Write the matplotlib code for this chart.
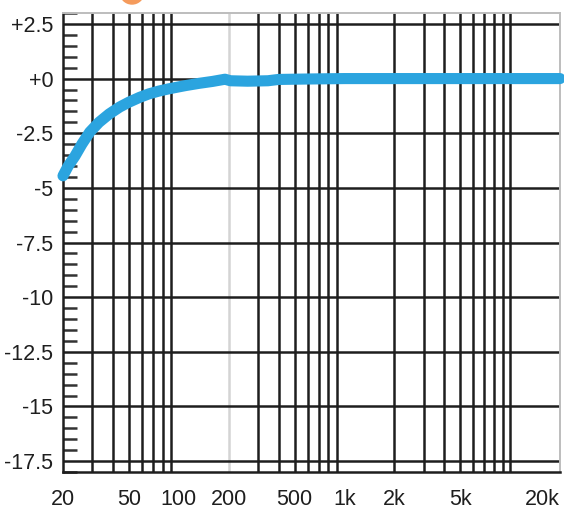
import numpy as np
import matplotlib
matplotlib.use("Agg")
import matplotlib.pyplot as plt
from matplotlib.patches import Ellipse
from matplotlib.ticker import FixedLocator, NullFormatter

# frequency response (Hz, dB)
freq = [20, 21.5, 23.6, 26, 29, 33, 38, 44, 50, 58, 66, 76, 87, 100, 110, 132, 160, 190,
        205, 260, 345, 400, 600, 1000, 2000, 5000, 10000, 20000]
gain = [-4.45, -4.0, -3.55, -3.0, -2.45, -2.0, -1.62, -1.3, -1.08, -0.86, -0.7, -0.57, -0.47,
        -0.38, -0.32, -0.22, -0.13, -0.03, -0.1, -0.12, -0.1, -0.04, -0.02, 0.0, 0.0, 0.0, 0.0, 0.0]

x_ticks = [20, 50, 100, 200, 500, 1000, 2000, 5000, 20000]
x_labels = ["20", "50", "100", "200", "500", "1k", "2k", "5k", "20k"]
y_ticks = [2.5, 0, -2.5, -5, -7.5, -10, -12.5, -15, -17.5]
y_labels = ["+2.5", "+0", "-2.5", "-5", "-7.5", "-10", "-12.5", "-15", "-17.5"]

plt.rcParams['font.family'] = ['Liberation Sans', 'DejaVu Sans']

W, H = 564, 509
fig = plt.figure(figsize=(W / 100, H / 100), dpi=100)
ax = fig.add_axes([63 / W, 1 - 472 / H, (560 - 63) / W, (472 - 13) / H])

ax.set_xscale("log")
ax.set_xlim(20, 20000)
ax.set_ylim(-18, 3)

# vertical grid: every 1..9 step of each decade, 200 Hz drawn faint
for dec in [10, 100, 1000]:
    for m in range(2, 10):
        f = m * dec
        if f <= 20 or f > 10000:
            continue
        col = "#d4d4d4" if f == 200 else "#1e1e1e"
        ax.axvline(f, color=col, lw=1.8, zorder=1)
ax.axvline(10000, color="#1e1e1e", lw=1.8, zorder=1)

# horizontal grid at the labelled levels
for y in y_ticks:
    ax.axhline(y, color="#1e1e1e", lw=1.8, zorder=1)

ax.plot(freq, gain, color="#2ba4df", lw=8, solid_capstyle="round",
        solid_joinstyle="round", zorder=3, clip_on=False)

ax.xaxis.set_major_locator(FixedLocator(x_ticks))
ax.set_xticklabels(x_labels)
ax.xaxis.set_minor_locator(FixedLocator([]))
ax.xaxis.set_minor_formatter(NullFormatter())
ax.tick_params(axis="x", which="both", length=0, pad=12, labelsize=15.5, colors="#1e1e1e")
for lbl in ax.get_xticklabels():
    if lbl.get_text() == "20k":
        lbl.set_horizontalalignment("right")

ax.set_yticks(y_ticks)
ax.set_yticklabels(y_labels)
ax.yaxis.set_minor_locator(FixedLocator(np.arange(-18, 3.01, 0.5)))
ax.tick_params(axis="y", which="major", length=0, pad=7, labelsize=15.5, colors="#1e1e1e")
ax.tick_params(axis="y", which="minor", direction="in", length=10, width=1.8, color="#333333")

for side in ["left", "bottom"]:
    ax.spines[side].set_color("#1e1e1e")
    ax.spines[side].set_linewidth(1.8)
for side in ["top", "right"]:
    ax.spines[side].set_color("#bdbdbd")
    ax.spines[side].set_linewidth(1.4)

# orange marker peeking over the top edge
fig.add_artist(Ellipse((132 / W, 1 + 8 / H), 24 / W, 24 / H,
                       transform=fig.transFigure, color="#f59b5c", clip_on=False))

fig.savefig("out.png", dpi=100)
